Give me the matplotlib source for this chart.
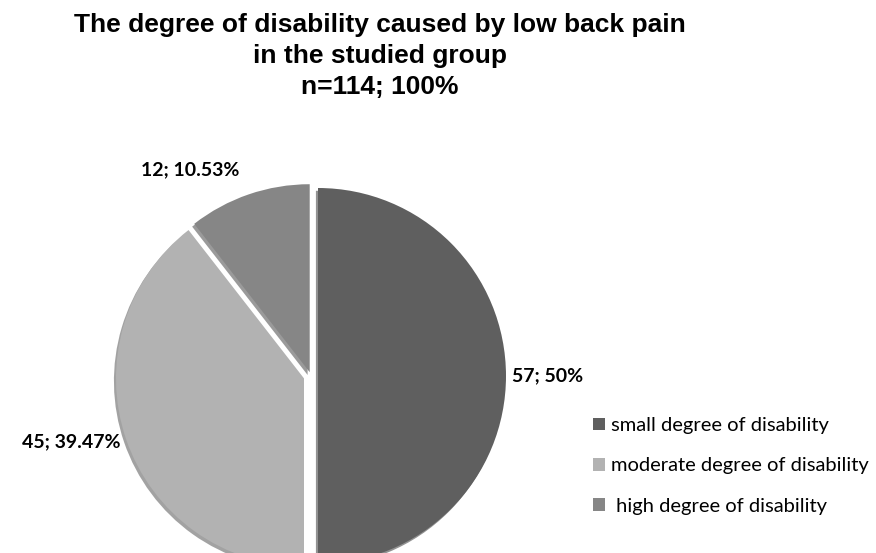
import numpy as np
import matplotlib.pyplot as plt

categories = ["small degree of disability", "moderate degree of disability", " high degree of disability"]
counts = [57, 45, 12]
percents = [50.0, 39.47, 10.53]
colors = ["#5f5f5f", "#b2b2b2", "#868686"]

W, H = 876, 553
fig = plt.figure(figsize=(W / 100, H / 100), dpi=100)
fig.patch.set_facecolor("white")

# axes in pixel units so the pie can hang off the bottom like the original
ax = fig.add_axes([0, 0, 1, 1])

labels = [f"{c}; {p:g}%" for c, p in zip(counts, percents)]
wedges, texts = ax.pie(
    counts,
    labels=labels,
    colors=colors,
    startangle=90,
    counterclock=False,
    center=(311, 177),
    radius=188,
    explode=[7, 7.4, 4],
    labeldistance=1.03,
    shadow={"ox": -1.5, "oy": -2, "shade": 0.6},
    wedgeprops=dict(linewidth=0),
    textprops=dict(fontfamily="Lato", fontweight="bold", fontsize=14, color="black"),
)
# left-hand labels hang to the left of their point
texts[1].set_ha("right")
texts[2].set_ha("right")
# small slice label sits a bit further out, as in the original
w = wedges[2]
mid = np.deg2rad((w.theta1 + w.theta2) / 2)
cx, cy = w.center
texts[2].set_position((cx + 1.15 * w.r * np.cos(mid), cy + 1.14 * w.r * np.sin(mid)))

ax.set_xlim(0, W)
ax.set_ylim(0, H)
ax.set_aspect("equal")
ax.axis("off")

fig.text(380 / W, 1 - 13 / H,
         "The degree of disability caused by low back pain\nin the studied group\nn=114; 100%",
         ha="center", va="top", fontsize=19, fontweight="bold",
         fontfamily="Liberation Sans", linespacing=1.38)

ax.legend(wedges, categories, loc="upper left",
          bbox_to_anchor=(593 / W, 1 - 417 / H), bbox_transform=fig.transFigure,
          frameon=False, handlelength=0.6, handleheight=0.6,
          handletextpad=0.28, labelspacing=1.16, borderpad=0, borderaxespad=0,
          prop=dict(family="Lato", size=14.5))

fig.savefig("out.png", dpi=100)
